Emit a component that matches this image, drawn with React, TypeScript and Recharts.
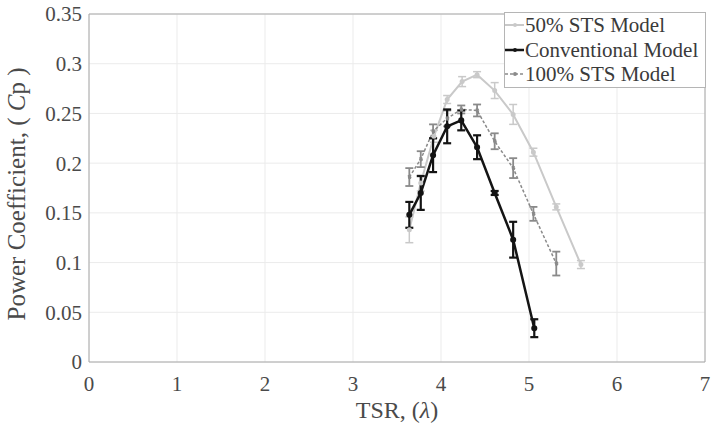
import {
  CartesianGrid,
  ErrorBar,
  Line,
  LineChart,
  ReferenceLine,
  XAxis,
  YAxis,
} from "recharts";

const tsr50 = [3.64, 3.77, 3.92, 4.07, 4.24, 4.41, 4.61, 4.82, 5.05, 5.31, 5.59];
const cp50 = [0.133, 0.18, 0.227, 0.264, 0.282, 0.289, 0.273, 0.249, 0.211, 0.156, 0.098];
const err50 = [0.013, 0.008, 0.006, 0.004, 0.005, 0.003, 0.008, 0.01, 0.004, 0.003, 0.004];

const tsrConv = [3.64, 3.77, 3.91, 4.07, 4.23, 4.41, 4.61, 4.82, 5.06];
const cpConv = [0.148, 0.17, 0.208, 0.237, 0.243, 0.216, 0.17, 0.123, 0.034];
const errConv = [0.013, 0.017, 0.017, 0.017, 0.01, 0.012, 0.002, 0.018, 0.009];

const tsr100 = [3.64, 3.77, 3.91, 4.07, 4.23, 4.41, 4.61, 4.82, 5.05, 5.31];
const cp100 = [0.186, 0.204, 0.232, 0.245, 0.254, 0.253, 0.222, 0.195, 0.149, 0.099];
const err100 = [0.009, 0.008, 0.007, 0.008, 0.004, 0.006, 0.008, 0.01, 0.007, 0.012];

const xTicks = [0, 1, 2, 3, 4, 5, 6, 7];
const yTicks = [0, 0.05, 0.1, 0.15, 0.2, 0.25, 0.3, 0.35];

const toRows = (xs: number[], ys: number[], es: number[]) =>
  xs.map((x, i) => ({ x, cp: ys[i], err: es[i] }));

const data50 = toRows(tsr50, cp50, err50);
const dataConv = toRows(tsrConv, cpConv, errConv);
const data100 = toRows(tsr100, cp100, err100);

const FONT = "'Liberation Serif', 'DejaVu Serif', serif";
const C50 = "#c9c9c9";
const CCONV = "#141414";
const C100 = "#8a8a8a";
const TXT = "#4a4a4a";

const legendItems = [
  { name: "50% STS Model", color: C50, dash: undefined, width: 2 },
  { name: "Conventional Model", color: CCONV, dash: undefined, width: 2.5 },
  { name: "100% STS Model", color: C100, dash: "3 2", width: 1.5 },
];

// legend drawn on top of the chart so it doesn't steal plot space
const LegendBox = () => (
  <div
    style={{
      position: "absolute",
      left: 504,
      top: 12,
      width: 202,
      boxSizing: "border-box",
      border: "1px solid #b5b5b5",
      background: "#fff",
      padding: 0,
      fontFamily: FONT,
      fontSize: 21,
      color: "#3a3a3a",
      lineHeight: "24.5px",
    }}
  >
    {legendItems.map((it) => (
      <div key={it.name} style={{ display: "flex", alignItems: "center" }}>
        <svg width={20} height={10} style={{ flex: "none" }}>
          <line
            x1={0}
            x2={19}
            y1={5}
            y2={5}
            stroke={it.color}
            strokeWidth={it.width}
            strokeDasharray={it.dash}
          />
          <circle cx={10} cy={5} r={2} fill={it.color} />
        </svg>
        <span style={{ whiteSpace: "nowrap" }}>{it.name}</span>
      </div>
    ))}
  </div>
);

const YLabel = ({ viewBox }: any) => {
  const cy = viewBox.y + viewBox.height / 2 + 6;
  return (
    <text
      x={25}
      y={cy}
      transform={`rotate(-90, 25, ${cy})`}
      textAnchor="middle"
      style={{ fontFamily: FONT, fontSize: 25, fill: TXT }}
    >
      Power Coefficient, ({" "}
      <tspan fontStyle="italic">C</tspan>p )
    </text>
  );
};

const XLabel = ({ viewBox }: any) => {
  const cx = viewBox.x + viewBox.width / 2;
  return (
    <text
      x={cx}
      y={418}
      textAnchor="middle"
      style={{ fontFamily: FONT, fontSize: 24, fill: TXT }}
    >
      TSR, (<tspan fontStyle="italic">λ</tspan>)
    </text>
  );
};

const tickStyle = { fontFamily: FONT, fontSize: 21, fill: TXT };

export default function App() {
  return (
    <div
      style={{
        position: "absolute",
        left: 0,
        top: 0,
        width: 714,
        height: 426,
        overflow: "hidden",
        background: "#fff",
        fontFamily: FONT,
      }}
    >
      <LineChart
        width={714}
        height={426}
        margin={{ top: 14, right: 9, left: 9, bottom: 8 }}
      >
        <CartesianGrid stroke="#ebebeb" />
        <XAxis
          type="number"
          dataKey="x"
          domain={[0, 7]}
          ticks={xTicks}
          allowDataOverflow
          height={56}
          tick={tickStyle}
          tickLine={false}
          tickSize={5}
          tickMargin={9}
          axisLine={{ stroke: "#a8a8a8" }}
          label={<XLabel />}
        />
        <YAxis
          type="number"
          domain={[0, 0.35]}
          ticks={yTicks}
          allowDataOverflow
          width={80}
          tick={tickStyle}
          tickLine={false}
          tickSize={5}
          tickMargin={2}
          axisLine={{ stroke: "#a8a8a8" }}
          label={<YLabel />}
        />
        <ReferenceLine y={0.35} stroke="#a8a8a8" />
        <ReferenceLine x={7} stroke="#a8a8a8" />
        <Line
          data={data50}
          dataKey="cp"
          name="50% STS Model"
          stroke={C50}
          strokeWidth={2}
          dot={{ r: 1.5, fill: C50, stroke: C50 }}
          isAnimationActive={false}
        >
          <ErrorBar dataKey="err" direction="y" width={4} stroke={C50} strokeWidth={1.5} />
        </Line>
        <Line
          data={data100}
          dataKey="cp"
          name="100% STS Model"
          stroke={C100}
          strokeWidth={1.5}
          strokeDasharray="3 2"
          dot={{ r: 1.5, fill: C100, stroke: C100 }}
          isAnimationActive={false}
        >
          <ErrorBar dataKey="err" direction="y" width={4} stroke={C100} strokeWidth={1.8} />
        </Line>
        <Line
          data={dataConv}
          dataKey="cp"
          name="Conventional Model"
          stroke={CCONV}
          strokeWidth={2.5}
          dot={{ r: 1.8, fill: CCONV, stroke: CCONV }}
          isAnimationActive={false}
        >
          <ErrorBar dataKey="err" direction="y" width={4} stroke={CCONV} strokeWidth={2.2} />
        </Line>
      </LineChart>
      <LegendBox />
    </div>
  );
}
